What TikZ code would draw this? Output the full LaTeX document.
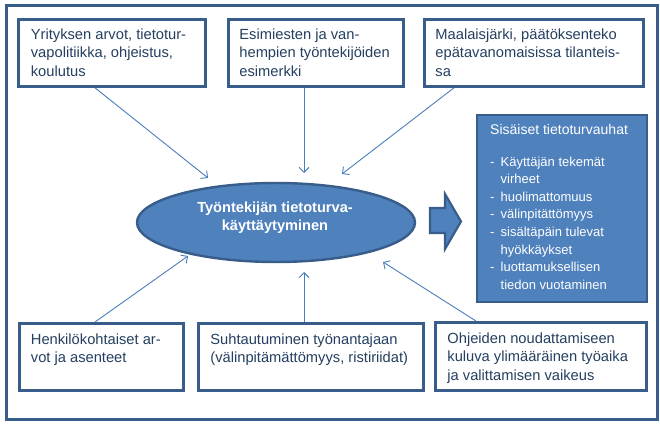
\documentclass[tikz,border=0pt]{standalone}
\usepackage{fontspec}
\setmainfont{Liberation Sans}
\usetikzlibrary{arrows.meta,shapes.geometric}
\definecolor{bord}{HTML}{385D8A}
\definecolor{fillb}{HTML}{4F81BD}
\definecolor{conn}{HTML}{4A7EBB}
\definecolor{txt}{HTML}{243F60}
% width, height, left pad, top space, text
\newcommand\bxt[5]{\parbox[t][#2pt][t]{#1pt}{\raggedright\leftskip=#3pt\relax\vspace*{#4pt}#5}}
\begin{document}
\begin{tikzpicture}[x=1pt,y=-1pt,
  outerframe/.style={draw=bord, line width=3pt, anchor=north west, inner sep=0pt},
  tbox/.style={draw=bord, line width=2.8pt, fill=white, anchor=north west, inner sep=0pt,
    font=\fontsize{14.7}{18.5}\selectfont, text=txt},
  rbox/.style={draw=bord, line width=2.4pt, fill=fillb, anchor=north west, inner sep=0pt,
    text=white},
  ellip/.style={ellipse, draw=bord, line width=2.4pt, fill=fillb, inner sep=0pt,
    minimum width=278pt, minimum height=79pt},
  eltxt/.style={align=center, inner sep=0pt, text=white,
    font=\fontsize{14.6}{18}\selectfont\bfseries},
  conline/.style={draw=conn, line width=0.9pt, -{Straight Barb[length=5pt,width=10pt]}},
  barrow/.style={draw=bord, line width=2.2pt, fill=fillb, line join=miter}
]
\useasboundingbox (0,0) rectangle (660,425);
\node[outerframe, minimum width=651pt, minimum height=414pt] (frame) at (5,4) {};

% top boxes
\node[tbox] (b1) at (17,18) {\bxt{187}{67}{12.5}{9.4}{Yrityksen arvot, tietotur-\\vapolitiikka, ohjeistus,\\koulutus}};
\node[tbox] (b2) at (227,18) {\bxt{175}{67}{11}{9.4}{Esimiesten ja van-\\hempien työntekijöiden\\esimerkki}};
\node[tbox] (b3) at (423,18) {\bxt{219}{67}{11}{9.4}{Maalaisjärki, päätöksenteko\\epätavanomaisissa tilanteis-\\sa}};

% bottom boxes
\node[tbox] (b4) at (18,322) {\bxt{164}{67}{11.5}{10.4}{Henkilökohtaiset ar-\\vot ja asenteet}};
\node[tbox] (b5) at (197,322) {\bxt{225}{67}{12}{10.4}{Suhtautuminen työnantajaan\\(välinpitämättömyys, ristiriidat)}};
\node[tbox] (b6) at (434,321) {\bxt{211}{68}{12}{10.4}{Ohjeiden noudattamiseen\\kuluva ylimääräinen työaika\\ja valittamisen vaikeus}};

% right box
\node[rbox] (rb) at (476,114) {\parbox[t][187pt][t]{170pt}{\raggedright\leftskip=13pt\relax
  \vspace*{8.8pt}\fontsize{14}{17.6}\selectfont Sisäiset tietoturvauhat\par
  \vspace{14.4pt}\fontsize{13}{17.6}\selectfont\leftskip=13pt\relax
  \makebox[10.5pt][l]{-}Käyttäjän tekemät\\
  \hspace*{10.5pt}virheet\\
  \makebox[10.5pt][l]{-}huolimattomuus\\
  \makebox[10.5pt][l]{-}välinpitättömyys\\
  \makebox[10.5pt][l]{-}sisältäpäin tulevat\\
  \hspace*{10.5pt}hyökkäykset\\
  \makebox[10.5pt][l]{-}luottamuksellisen\\
  \hspace*{10.5pt}tiedon vuotaminen\par}};

% ellipse
\node[ellip] (el) at (276,222.5) {};
\node[eltxt] (elt) at (275,218.2) {Työntekijän tietoturva-\\käyttäytyminen};

% block arrow
\draw[barrow] (430,208) -- (445,208) -- (445,194) -- (461,221.5) -- (445,249) -- (445,233) -- (430,233) -- cycle;

% arrow tips
\coordinate (t1) at (208,178);
\coordinate (t2) at (304,173);
\coordinate (t3) at (342,174);
\coordinate (t4) at (188,256);
\coordinate (t5) at (304,272);
\coordinate (t6) at (383,262);

\draw[conline] ([xshift=78pt]b1.south west) -- (t1);
\draw[conline] ([xshift=77pt]b2.south west) -- (t2);
\draw[conline] ([xshift=31pt]b3.south west) -- (t3);
\draw[conline] ([xshift=77pt]b4.north west) -- (t4);
\draw[conline] ([xshift=107pt]b5.north west) -- (t5);
\draw[conline] ([xshift=42pt]b6.north west) -- (t6);
\end{tikzpicture}
\end{document}
